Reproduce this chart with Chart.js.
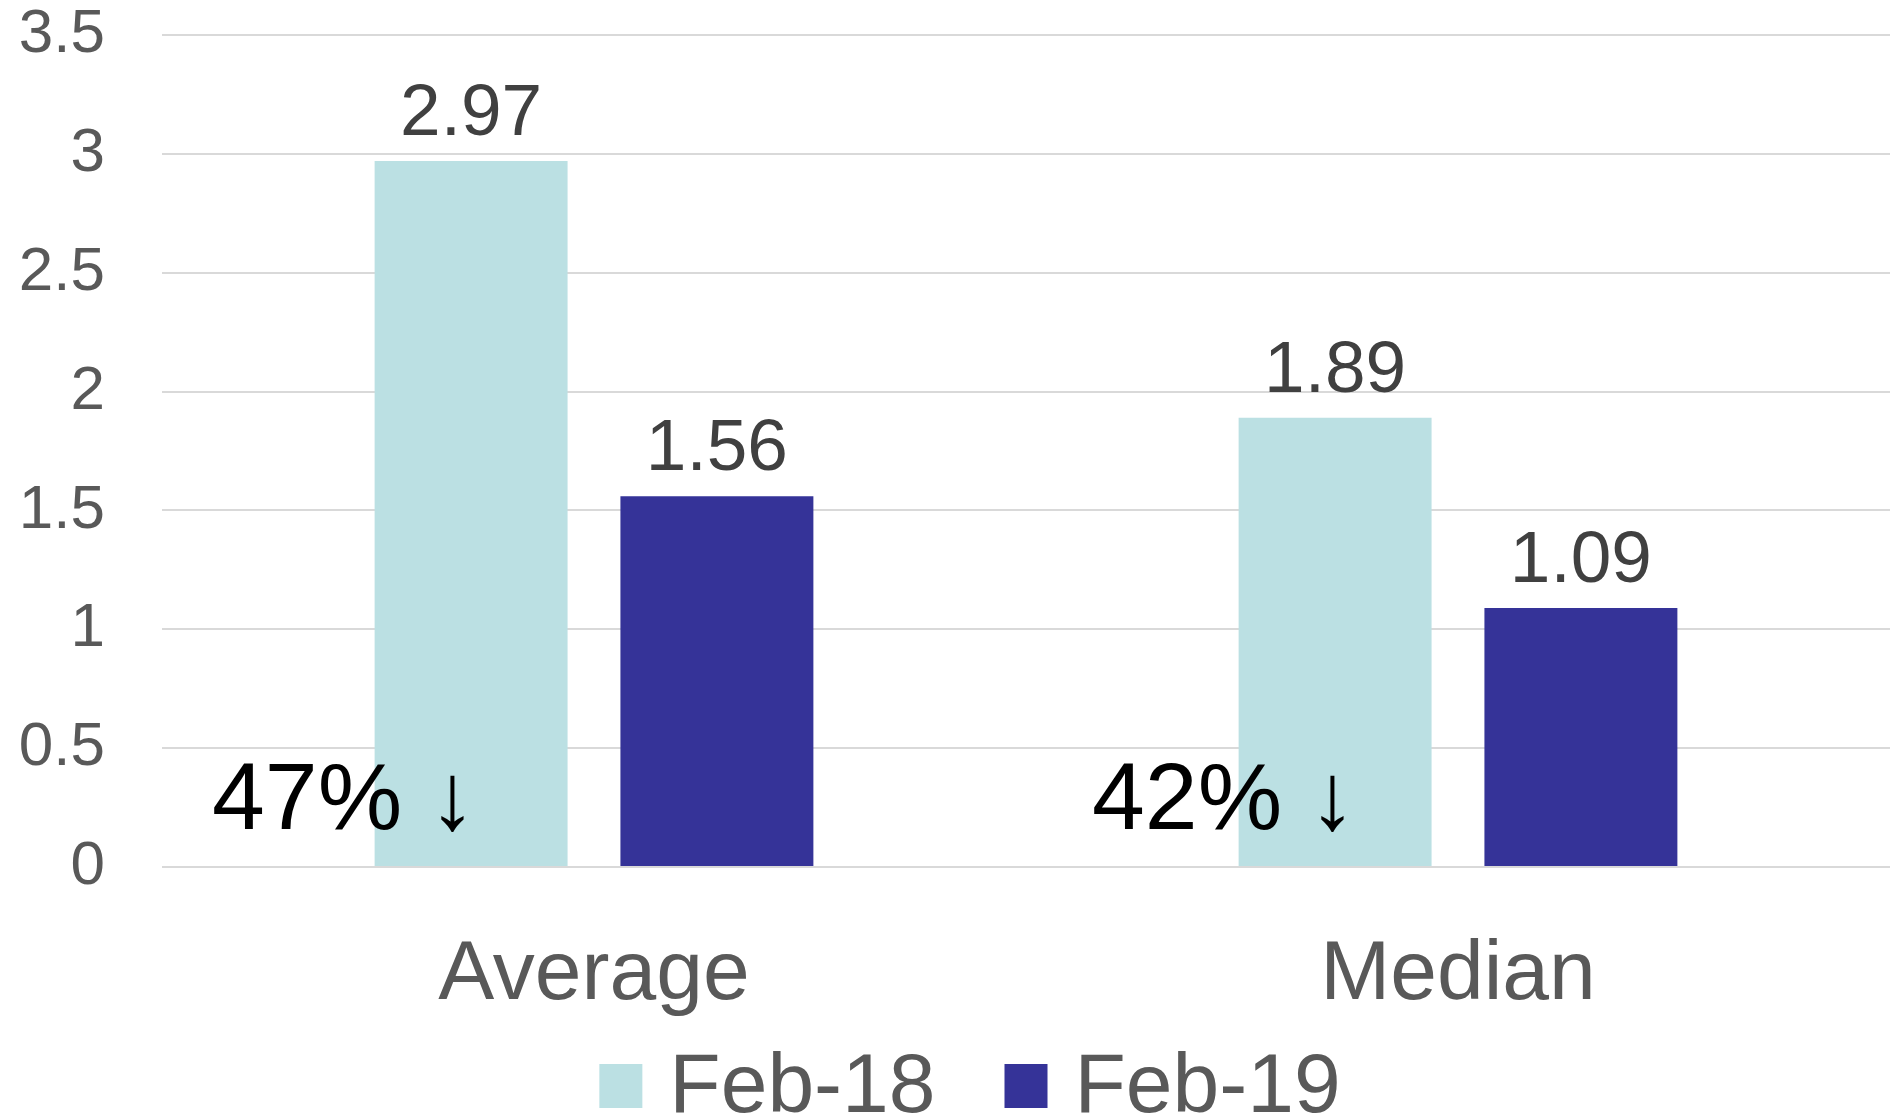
<!DOCTYPE html>
<html><head><meta charset="utf-8">
<script src="https://cdn.jsdelivr.net/npm/chart.js@4/dist/chart.umd.min.js"></script>
<style>html,body{margin:0;padding:0;background:#fff;overflow:hidden}#wrap{width:1890px;height:1118px;position:relative}</style>
</head><body><div id="wrap"><canvas id="c"></canvas></div>
<script>
const categories = ['Average', 'Median'];
const seriesNames = ['Feb-18', 'Feb-19'];
const feb18 = [2.97, 1.89];
const feb19 = [1.56, 1.09];
const changeLabels = ['47% \u2193', '42% \u2193'];
const yTickLabels = ['0', '0.5', '1', '1.5', '2', '2.5', '3', '3.5'];
const seriesColors = ['#bbe0e3', '#353398'];

const FONT = '"Liberation Sans", Arial, sans-serif';

const overlay = {
  id: 'overlay',
  afterDatasetsDraw(chart) {
    const ctx = chart.ctx;
    ctx.save();
    // value labels
    ctx.font = '73px ' + FONT;
    ctx.fillStyle = '#404040';
    ctx.textAlign = 'center';
    ctx.textBaseline = 'alphabetic';
    chart.data.datasets.forEach((ds, di) => {
      chart.getDatasetMeta(di).data.forEach((bar, i) => {
        ctx.fillText(ds.data[i].toFixed(2), bar.x, bar.y - 26);
      });
    });
    // change annotations
    const xs = chart.scales.x, ys = chart.scales.y;
    ctx.font = '95px ' + FONT;
    ctx.fillStyle = '#000000';
    ctx.textAlign = 'left';
    const offs = [-382, -366];
    changeLabels.forEach((t, i) => {
      ctx.fillText(t, xs.getPixelForValue(i) + offs[i], ys.getPixelForValue(0) - 38);
    });
    // legend
    ctx.font = '84px ' + FONT;
    const boxW = 43, boxH = 44, gap = 27, spacing = 69;
    const widths = seriesNames.map(n => boxW + gap + ctx.measureText(n).width);
    const total = widths.reduce((a, b) => a + b, 0) + spacing * (seriesNames.length - 1);
    let x = chart.width / 2 + 25 - total / 2;
    const boxTop = chart.height - 54, base = chart.height - 6;
    seriesNames.forEach((n, i) => {
      ctx.fillStyle = seriesColors[i];
      ctx.fillRect(x, boxTop, boxW, boxH);
      ctx.fillStyle = '#595959';
      ctx.fillText(n, x + boxW + gap, base);
      x += widths[i] + spacing;
    });
    ctx.restore();
  }
};

new Chart(document.getElementById('c'), {
  type: 'bar',
  data: {
    labels: categories,
    datasets: [
      { label: seriesNames[0], data: feb18, backgroundColor: seriesColors[0], borderWidth: 0, categoryPercentage: 0.569, barPercentage: 0.785 },
      { label: seriesNames[1], data: feb19, backgroundColor: seriesColors[1], borderWidth: 0, categoryPercentage: 0.569, barPercentage: 0.785 }
    ]
  },
  options: {
    responsive: true,
    maintainAspectRatio: false,
    animation: false,
    devicePixelRatio: 1,
    layout: { padding: { top: 35, bottom: 100, left: 0, right: 0 } },
    plugins: { legend: { display: false }, tooltip: { enabled: false } },
    scales: {
      x: {
        grid: { display: false },
        border: { display: false },
        ticks: { font: { family: FONT, size: 84 }, color: '#595959', padding: 50 },
        afterFit: s => { s.height = 151; s.paddingLeft = 0; s.paddingRight = 0; }
      },
      y: {
        min: 0, max: 3.5,
        grid: { color: '#d9d9d9', lineWidth: 2, drawTicks: false },
        border: { display: false },
        ticks: { stepSize: 0.5, font: { family: FONT, size: 62, lineHeight: 1 }, color: '#595959', padding: 57,
          callback: (v, i) => yTickLabels[i] },
        afterFit: s => { s.width = 162; s.paddingTop = 0; s.paddingBottom = 0; }
      }
    }
  },
  plugins: [overlay]
});
</script></body></html>
